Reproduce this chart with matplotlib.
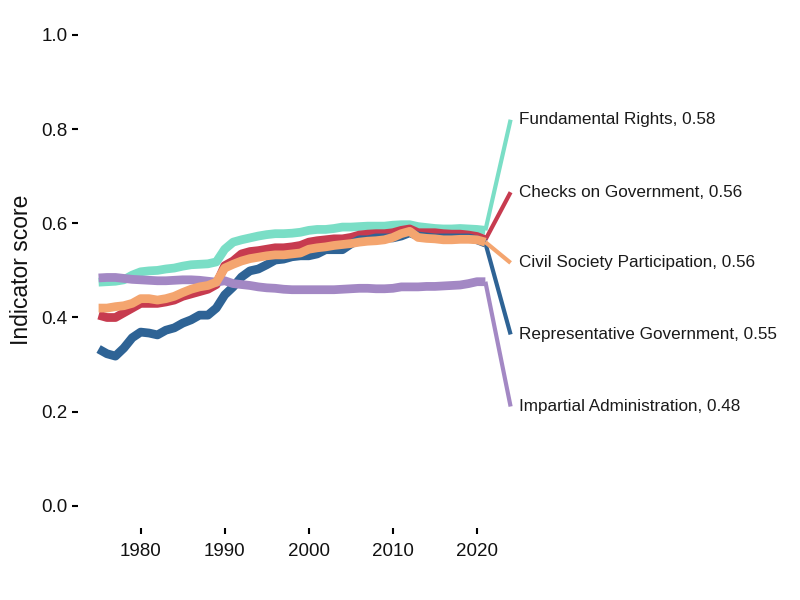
import numpy as np
import matplotlib.pyplot as plt

plt.rcParams['font.family'] = ['Liberation Sans', 'DejaVu Sans']

years = list(range(1975, 2022))

fundamental = [0.475, 0.476, 0.477, 0.480, 0.490, 0.497, 0.499, 0.500, 0.503, 0.505,
               0.509, 0.512, 0.513, 0.514, 0.518, 0.545, 0.560, 0.565, 0.569, 0.573,
               0.576, 0.578, 0.578, 0.579, 0.581, 0.585, 0.587, 0.587, 0.589, 0.592,
               0.592, 0.593, 0.594, 0.594, 0.594, 0.596, 0.597, 0.597, 0.593, 0.591,
               0.589, 0.588, 0.588, 0.589, 0.588, 0.587, 0.585]
checks = [0.405, 0.400, 0.400, 0.410, 0.420, 0.430, 0.430, 0.430, 0.433, 0.437,
          0.445, 0.450, 0.455, 0.460, 0.470, 0.510, 0.520, 0.535, 0.540, 0.542,
          0.545, 0.548, 0.548, 0.550, 0.553, 0.560, 0.563, 0.565, 0.567, 0.567,
          0.570, 0.575, 0.577, 0.578, 0.578, 0.580, 0.585, 0.588, 0.580, 0.580,
          0.580, 0.578, 0.577, 0.577, 0.575, 0.572, 0.565]
representative = [0.333, 0.323, 0.318, 0.335, 0.357, 0.369, 0.367, 0.363, 0.373, 0.378,
                  0.388, 0.395, 0.405, 0.405, 0.420, 0.448, 0.465, 0.486, 0.499, 0.503,
                  0.512, 0.522, 0.524, 0.529, 0.531, 0.531, 0.535, 0.544, 0.544, 0.544,
                  0.556, 0.565, 0.565, 0.569, 0.569, 0.569, 0.573, 0.580, 0.573, 0.571,
                  0.569, 0.569, 0.569, 0.569, 0.569, 0.565, 0.558]
impartial = [0.484, 0.485, 0.485, 0.483, 0.481, 0.480, 0.479, 0.478, 0.478, 0.479,
             0.480, 0.480, 0.479, 0.477, 0.475, 0.478, 0.472, 0.470, 0.468, 0.465,
             0.463, 0.462, 0.460, 0.459, 0.459, 0.459, 0.459, 0.459, 0.459, 0.460,
             0.461, 0.462, 0.462, 0.461, 0.461, 0.462, 0.465, 0.465, 0.465, 0.466,
             0.466, 0.467, 0.468, 0.469, 0.472, 0.476, 0.476]
civil = [0.420, 0.420, 0.423, 0.425, 0.430, 0.440, 0.440, 0.437, 0.440, 0.445,
         0.453, 0.460, 0.465, 0.468, 0.475, 0.505, 0.513, 0.520, 0.525, 0.528,
         0.531, 0.533, 0.533, 0.535, 0.537, 0.545, 0.548, 0.550, 0.553, 0.555,
         0.557, 0.560, 0.562, 0.563, 0.565, 0.570, 0.578, 0.583, 0.570, 0.568,
         0.567, 0.565, 0.565, 0.566, 0.566, 0.565, 0.560]

# drawing order, label text, colour, label y position
series = [
    ('Fundamental Rights, 0.58', fundamental, '#7ADEC6', 0.82),
    ('Checks on Government, 0.56', checks, '#C73B4F', 0.666),
    ('Representative Government, 0.55', representative, '#2E6395', 0.364),
    ('Impartial Administration, 0.48', impartial, '#A388C4', 0.211),
    ('Civil Society Participation, 0.56', civil, '#F4A56F', 0.516),
]

label_year = 2024

fig = plt.figure(figsize=(8, 6), dpi=100)
ax = fig.add_axes([0.0975, 0.12, 0.5665, 0.861])

for name, vals, col, ly in series:
    ax.plot(years, vals, color=col, lw=6.3, solid_capstyle='butt', solid_joinstyle='round')
    ax.plot([years[-1], label_year], [vals[-1], ly], color=col, lw=3.0, solid_capstyle='butt')
    ax.annotate(name, xy=(label_year, ly), xytext=(6, 0), textcoords='offset points',
                va='center', ha='left', fontsize=12.3, color='#1a1a1a', annotation_clip=False)

ax.set_xlim(1972.55, 2026.45)
ax.set_ylim(-0.047, 1.05)
ax.set_xticks([1980, 1990, 2000, 2010, 2020])
ax.set_yticks([0.0, 0.2, 0.4, 0.6, 0.8, 1.0])
ax.set_yticklabels(['0.0', '0.2', '0.4', '0.6', '0.8', '1.0'])
for s in ax.spines.values():
    s.set_visible(False)
ax.tick_params(axis='both', length=4, width=1.5, color='black', labelsize=13.5, labelcolor='#111111')
ax.tick_params(axis='x', pad=7)
ax.set_ylabel('Indicator score', fontsize=16.5, color='#111111', labelpad=6)

fig.savefig('out.png', dpi=100)
